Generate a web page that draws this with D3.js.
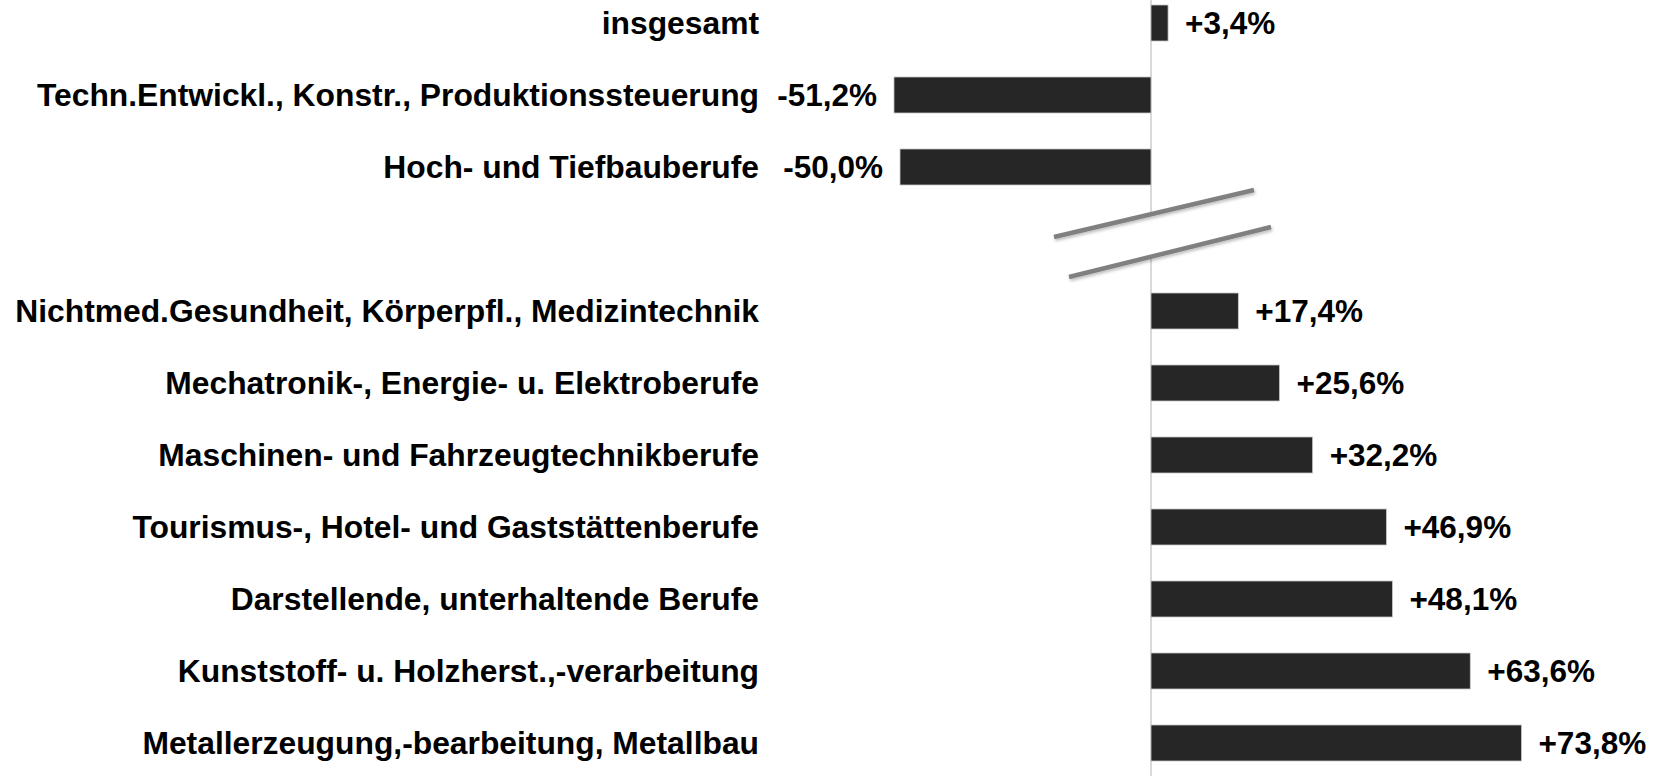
<!DOCTYPE html>
<html>
<head>
<meta charset="utf-8">
<script src="https://cdn.jsdelivr.net/npm/d3@7"></script>
<style>
  html, body { margin: 0; padding: 0; background: #fff; }
  svg { display: block; }
  text { font-family: "Liberation Sans", Arial, sans-serif; font-weight: bold; fill: #000; }
</style>
</head>
<body>
<svg id="chart" width="1656" height="776"></svg>
<script>
// ---- data ----
const topCategories = ["insgesamt", "Techn.Entwickl., Konstr., Produktionssteuerung", "Hoch- und Tiefbauberufe"];
const topValues = [3.4, -51.2, -50.0];
const bottomCategories = [
  "Nichtmed.Gesundheit, Körperpfl., Medizintechnik",
  "Mechatronik-, Energie- u. Elektroberufe",
  "Maschinen- und Fahrzeugtechnikberufe",
  "Tourismus-, Hotel- und Gaststättenberufe",
  "Darstellende, unterhaltende Berufe",
  "Kunststoff- u. Holzherst.,-verarbeitung",
  "Metallerzeugung,-bearbeitung, Metallbau"
];
const bottomValues = [17.4, 25.6, 32.2, 46.9, 48.1, 63.6, 73.8];
const xDomain = [-60, 80];

// ---- build ----
const rows = topCategories.map((c, i) => ({cat: c, value: topValues[i]}))
  .concat(bottomCategories.map((c, i) => ({cat: c, value: bottomValues[i]})));
const GAP = "__gap__";
const yDomain = topCategories.concat([GAP], bottomCategories);

const svg = d3.select("#chart");
const W = 1656, H = 776;
const zeroX = 1151, pxPerUnit = 5.02;

const x = d3.scaleLinear()
  .domain(xDomain)
  .range([zeroX + xDomain[0] * pxPerUnit, zeroX + xDomain[1] * pxPerUnit]);

const y = d3.scaleBand()
  .domain(yDomain)
  .range([-13, 779])
  .paddingInner(0.5)
  .paddingOuter(0.25);

const locale = d3.formatLocale({decimal: ",", thousands: ".", grouping: [3], currency: ["", "€"], minus: "-"});
const fmt = locale.format("+.1f");

// axis line
svg.append("line")
  .attr("x1", x(0)).attr("x2", x(0))
  .attr("y1", 0).attr("y2", H)
  .attr("stroke", "#d9d9d9").attr("stroke-width", 2);

// bars
svg.selectAll("rect.bar").data(rows).join("rect")
  .attr("class", "bar")
  .attr("x", d => Math.min(x(0), x(d.value)))
  .attr("width", d => Math.abs(x(d.value) - x(0)))
  .attr("y", d => y(d.cat))
  .attr("height", y.bandwidth())
  .attr("fill", "#262626")
  .attr("stroke", "#c8c8c8").attr("stroke-width", 0.8);

// category labels
svg.selectAll("text.cat").data(rows).join("text")
  .attr("class", "cat")
  .attr("x", 759)
  .attr("y", d => y(d.cat) + y.bandwidth() / 2)
  .attr("dy", "0.35em")
  .attr("text-anchor", "end")
  .style("font-size", "31.8px")
  .text(d => d.cat);

// value labels
svg.selectAll("text.val").data(rows).join("text")
  .attr("class", "val")
  .attr("x", d => d.value >= 0 ? x(d.value) + 17 : x(d.value) - 17)
  .attr("y", d => y(d.cat) + y.bandwidth() / 2)
  .attr("dy", "0.35em")
  .attr("text-anchor", d => d.value >= 0 ? "start" : "end")
  .style("font-size", "31.5px")
  .text(d => fmt(d.value) + "%");

// axis break: white gap + two slanted lines
const defs = svg.append("defs");
const f = defs.append("filter").attr("id", "sh").attr("x", "-10%").attr("y", "-50%").attr("width", "120%").attr("height", "200%");
f.append("feDropShadow").attr("dx", 1).attr("dy", 2).attr("stdDeviation", 1.5).attr("flood-color", "#000").attr("flood-opacity", 0.25);

svg.append("polygon")
  .attr("points", [[1054, 237], [1254, 190], [1271, 227], [1069, 277]].map(p => p.join(",")).join(" "))
  .attr("fill", "#fff");
[[1054, 237, 1254, 190], [1069, 277, 1271, 227]].forEach(l => {
  svg.append("line")
    .attr("x1", l[0]).attr("y1", l[1]).attr("x2", l[2]).attr("y2", l[3])
    .attr("stroke", "#808080").attr("stroke-width", 4.5)
    .attr("filter", "url(#sh)");
});
</script>
</body>
</html>
